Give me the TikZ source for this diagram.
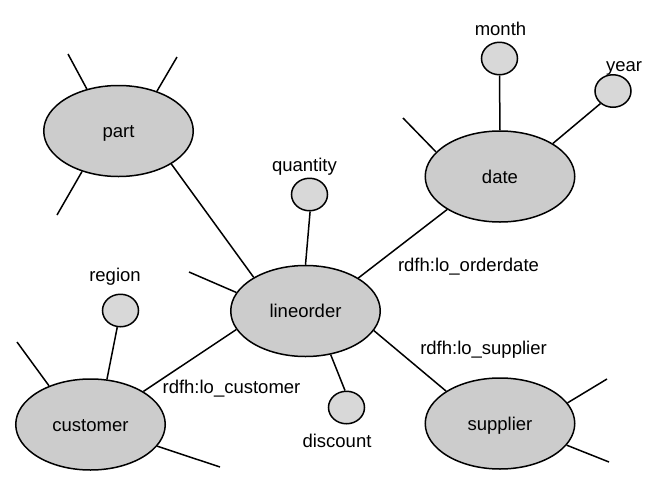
\documentclass[tikz,border=0pt]{standalone}
\usepackage{fontspec}
\setmainfont{Liberation Sans}
\usetikzlibrary{shapes.geometric}
\definecolor{bigfill}{HTML}{CCCCCC}
\definecolor{smallfill}{HTML}{D8D8D8}
\begin{document}
\begin{tikzpicture}[x=1pt,y=-1pt,
  every node/.style={font=\fontsize{18.5}{22}\selectfont},
  entity/.style={ellipse,draw,fill=bigfill,line width=1.5pt,minimum width=149.5pt,minimum height=91pt,inner sep=0pt,text height=13.2pt,text depth=0pt},
  attr/.style={ellipse,draw,fill=smallfill,line width=1.5pt,minimum width=36pt,minimum height=32.5pt,inner sep=0pt},
  lbl/.style={anchor=base,inner sep=0pt},
  conn/.style={line width=1.5pt}]
\useasboundingbox (0,0) rectangle (657,480);
% entities
\node[entity] (part) at (118.5,131) {part};
\node[entity] (lineorder) at (305.5,311) {lineorder};
\node[entity] (date) at (500,176.5) {date};
\node[entity] (customer) at (90.5,424.5) {customer};
\node[entity] (supplier) at (500,423.5) {supplier};
% attributes
\node[attr] (month) at (499.5,58.5) {};
\node[attr] (year) at (613,91) {};
\node[attr] (quantity) at (309.5,194.5) {};
\node[attr] (region) at (120.5,310.5) {};
\node[attr] (discount) at (346.5,407.5) {};
% labels
\node[lbl] (lmonth) at (500.5,35) {month};
\node[lbl] (lyear) at (624,71) {year};
\node[lbl] (lquantity) at (304.5,171) {quantity};
\node[lbl] (lregion) at (115,281) {region};
\node[lbl] (ldiscount) at (337,447) {discount};
\node[lbl] (lorderdate) at (468.5,271) {rdfh:lo\_orderdate};
\node[lbl] (lsupplier) at (483.5,354) {rdfh:lo\_supplier};
\node[lbl] (lcustomer) at (231.5,393) {rdfh:lo\_customer};
% free ends of stubs
\coordinate (p1) at (68,54);
\coordinate (p2) at (177,57);
\coordinate (p3) at (57,215);
\coordinate (l1) at (189,272);
\coordinate (d1) at (403,118);
\coordinate (c1) at (17,342);
\coordinate (c2) at (220,467);
\coordinate (s1) at (607,379);
\coordinate (s2) at (609,462);
% stubs
\draw[conn] (part.127.5) -- (p1);
\draw[conn] (part.46.8) -- (p2);
\draw[conn] (part.-132.5) -- (p3);
\draw[conn] (lineorder.165.7) -- (l1);
\draw[conn] (date.159.3) -- (d1);
\draw[conn] (customer.137.8) -- (c1);
\draw[conn] (customer.-18.4) -- (c2);
\draw[conn] (supplier.17.5) -- (s1);
\draw[conn] (supplier.-18.3) -- (s2);
% connectors
\draw[conn] (part.-32) -- (lineorder.147.6);
\draw[conn] (lineorder.32) -- (date.-148.7);
\draw[conn] (lineorder.-16.8) -- (supplier.149);
\draw[conn] (lineorder.-165.3) -- (customer.32.5);
\draw[conn] (lineorder.90.6) -- (quantity.-88);
\draw[conn] (lineorder.-60.5) -- (discount.95);
\draw[conn] (date.90) -- (month.-90);
\draw[conn] (date.32.3) -- (year.-135);
\draw[conn] (customer.70) -- (region.-101);
\end{tikzpicture}
\end{document}
